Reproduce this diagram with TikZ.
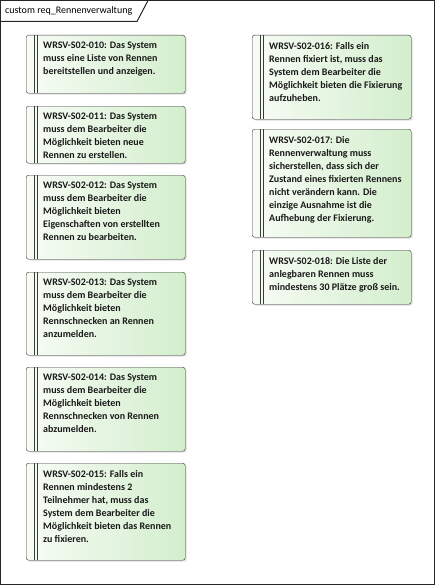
\documentclass[tikz,border=0pt]{standalone}
\usepackage{fontspec}
\setmainfont{Carlito}
\usetikzlibrary{shadows}

\definecolor{reqlight}{HTML}{F7FCF5}
\definecolor{reqgreen}{HTML}{D3EECD}
\definecolor{reqline}{HTML}{3A3A3A}

% requirement text, top aligned in a box of fixed height
\newcommand\reqtext[2]{\parbox[t][#1][t]{159pt}{\vspace*{7pt}\raggedright\leftskip=17pt\relax #2}}

\tikzset{
  reqbox/.style={draw=reqline, rounded corners=2.5pt, anchor=north west, inner sep=0pt,
    left color=reqlight, right color=reqgreen,
    drop shadow={shadow xshift=1.5pt, shadow yshift=-1.5pt, opacity=0.25},
    font=\bfseries\fontsize{10}{13}\selectfont, text=black!90},
  reqbar/.style={draw=reqline, line width=0.8pt},
  frame/.style={draw=black!85, line width=1pt}
}

\begin{document}
\begin{tikzpicture}[x=1pt,y=-1pt]
  \useasboundingbox (0,0) rectangle (436,586);
  \fill[white] (0,0) rectangle (436,586);
  \draw[frame] (0.5,0.5) rectangle (434.5,584.5);
  \draw[frame] (0.5,21.5) -- (137,21.5) -- (148,0.5);
  \node[anchor=west, font=\fontsize{10}{12}\selectfont, inner sep=0pt] (title) at (5,11) {custom req\_Rennenverwaltung};

  % left column
  \node[reqbox] (r010) at (26,35) {\reqtext{58pt}{WRSV-S02-010: Das System\\muss eine Liste von Rennen\\bereitstellen und anzeigen.}};
  \node[reqbox] (r011) at (26,106) {\reqtext{57pt}{WRSV-S02-011: Das System\\muss dem Bearbeiter die\\Möglichkeit bieten neue\\Rennen zu erstellen.}};
  \node[reqbox] (r012) at (26,175) {\reqtext{84pt}{WRSV-S02-012: Das System\\muss dem Bearbeiter die\\Möglichkeit bieten\\Eigenschaften von erstellten\\Rennen zu bearbeiten.}};
  \node[reqbox] (r013) at (26,272) {\reqtext{83pt}{WRSV-S02-013: Das System\\muss dem Bearbeiter die\\Möglichkeit bieten\\Rennschnecken an Rennen\\anzumelden.}};
  \node[reqbox] (r014) at (26,367) {\reqtext{84pt}{WRSV-S02-014: Das System\\muss dem Bearbeiter die\\Möglichkeit bieten\\Rennschnecken von Rennen\\abzumelden.}};
  \node[reqbox] (r015) at (26,463) {\reqtext{97pt}{WRSV-S02-015: Falls ein\\Rennen mindestens 2\\Teilnehmer hat, muss das\\System dem Bearbeiter die\\Möglichkeit bieten das Rennen\\zu fixieren.}};

  % right column
  \node[reqbox] (r016) at (252,35) {\reqtext{84pt}{WRSV-S02-016: Falls ein\\Rennen fixiert ist, muss das\\System dem Bearbeiter die\\Möglichkeit bieten die Fixierung\\aufzuheben.}};
  \node[reqbox] (r017) at (252,129) {\reqtext{108pt}{WRSV-S02-017: Die\\Rennenverwaltung muss\\sicherstellen, dass sich der\\Zustand eines fixierten Rennens\\nicht verändern kann. Die\\einzige Ausnahme ist die\\Aufhebung der Fixierung.}};
  \node[reqbox] (r018) at (252,250) {\reqtext{54pt}{WRSV-S02-018: Die Liste der\\anlegbaren Rennen muss\\mindestens 30 Plätze groß sein.}};

  \foreach \n in {r010,r011,r012,r013,r014,r015,r016,r017,r018}
    \foreach \d in {8.5,11}
      \draw[reqbar] ([xshift=\d pt]\n.north west) -- ([xshift=\d pt]\n.south west);
\end{tikzpicture}
\end{document}
